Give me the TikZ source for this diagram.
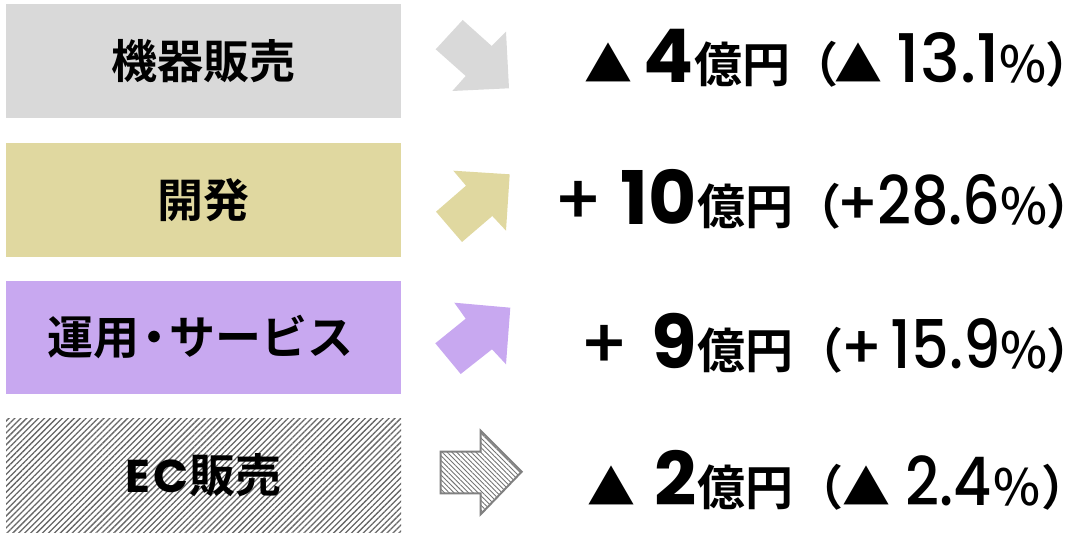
\documentclass[tikz,border=0pt]{standalone}
\usepackage{fontspec}
\usetikzlibrary{patterns.meta}
\newfontfamily\jpb{Noto Sans CJK JP Bold}
\newfontfamily\jpm{Noto Sans CJK JP Medium}
\newfontfamily\popb{Poppins Bold}
\newfontfamily\popm{Poppins Medium}
\newfontfamily\popmn{Poppins Medium}[FakeStretch=0.88]
\definecolor{cgray}{HTML}{D9D9D9}
\definecolor{cyel}{HTML}{E0D8A0}
\definecolor{cpur}{HTML}{C8A8F0}
\begin{document}
\begin{tikzpicture}[x=1pt,y=-1pt,
  every node/.style={inner sep=0},
  catlabel/.style={font=\jpb\fontsize{46}{50}\selectfont},
  tri/.style={anchor=base west, font=\jpb\fontsize{48}{50}\selectfont},
  plus/.style={font=\popm\fontsize{70}{74}\selectfont},
  pplus/.style={anchor=base west, font=\popm\fontsize{60}{64}\selectfont},
  num/.style={anchor=base east, font=\popb\fontsize{74}{78}\selectfont},
  unit/.style={anchor=base west, font=\jpb\fontsize{48}{50}\selectfont},
  par/.style={font=\jpb\fontsize{48}{50}\selectfont},
  pnum/.style={anchor=base east, font=\popmn\fontsize{67}{70}\selectfont},
  psign/.style={font=\jpm\fontsize{50}{54}\selectfont, anchor=base east},
  hatch/.style={pattern={Lines[angle=45,distance=4.2pt,line width=1.3pt]}, pattern color=black!60}
]
\useasboundingbox (0,0) rectangle (1089,534);
% category boxes
\fill[cgray] (6,4) rectangle (401,118);
\fill[cyel] (6,143) rectangle (401,257);
\fill[cpur] (6,281) rectangle (401,394);
\fill[hatch] (6,418) rectangle (401,532);
\node[catlabel] (c1) at (203.5,61) {機器販売};
\node[catlabel] (c2) at (203.5,200) {開発};
\node[catlabel] (c3) at (200,337.5) {運用\kern-8pt・\kern-8pt サービス};
\node[catlabel] (c4) at (203.5,475) {{\popb\fontsize{46}{50}\selectfont E\kern3pt C\kern1pt}販売};
% arrows
\fill[cgray] (435.7,49.3) -- (462.7,20) -- (491.7,46) -- (506,31.7) -- (509,88.3) -- (452.3,91) -- (465.7,76) -- cycle;
\fill[cyel] (453.3,170.7) -- (509.7,174.3) -- (506,230.7) -- (492.3,216) -- (462,242) -- (436,211.7) -- (466,185.7) -- cycle;
\fill[cpur] (454.3,302.7) -- (510.3,307.7) -- (506,364.3) -- (492,349.3) -- (460.7,374) -- (435.3,343.3) -- (465.7,318.7) -- cycle;
\draw[draw=black!50, line width=2pt, pattern={Lines[angle=-45,distance=3.4pt,line width=0.9pt]}, pattern color=black!55]
  (440.7,451.7) -- (480.7,451.7) -- (480.7,430.7) -- (521.7,471.7) -- (480.7,514.3) -- (480.7,493.3) -- (440.7,493.3) -- cycle;
% row 1
\node[tri] (s1) at (584,83) {▲};
\node[num] (n1) at (694,83) {4};
\node[unit] (u1) at (n1.base east) {億円};
\node[par, anchor=base west] (o1) at (790,83) {（};
\node[tri] (t1) at (834,83) {▲};
\node[pnum, font=\popm\fontsize{67}{70}\selectfont] (d1) at (1000,83) {13.1};
\node[psign] (q1) at (1047,83) {\%};
\node[par, anchor=base east] (e1) at (1072,83) {）\kern-22pt};
% row 2
\node[plus, anchor=base east] (s2) at (604,225) {+};
\node[num] (n2) at (697,225) {10};
\node[unit] (u2) at (n2.base east) {億円};
\node[par, anchor=base west] (o2) at (793,225) {（};
\node[pplus] (t2) at (836,225) {+};
\node[pnum] (d2) at (1001,225) {28.6};
\node[psign] (q2) at (1048,225) {\%};
\node[par, anchor=base east] (e2) at (1073,225) {）\kern-22pt};
% row 3
\node[plus, anchor=base east] (s3) at (630,368) {+};
\node[num] (n3) at (697,368) {9};
\node[unit] (u3) at (n3.base east) {億円};
\node[par, anchor=base west] (o3) at (795,368) {（};
\node[pplus] (t3) at (840,368) {+};
\node[pnum] (d3) at (1001,368) {15.9};
\node[psign] (q3) at (1048,368) {\%};
\node[par, anchor=base east] (e3) at (1073,368) {）\kern-22pt};
% row 4
\node[tri] (s4) at (587,505) {▲};
\node[num] (n4) at (697,505) {2};
\node[unit] (u4) at (n4.base east) {億円};
\node[par, anchor=base west] (o4) at (795,505) {（};
\node[tri] (t4) at (842,505) {▲};
\node[pnum] (d4) at (992,505) {2.4};
\node[psign] (q4) at (1041,505) {\%};
\node[par, anchor=base east] (e4) at (1068,505) {）\kern-22pt};
\end{tikzpicture}
\end{document}
